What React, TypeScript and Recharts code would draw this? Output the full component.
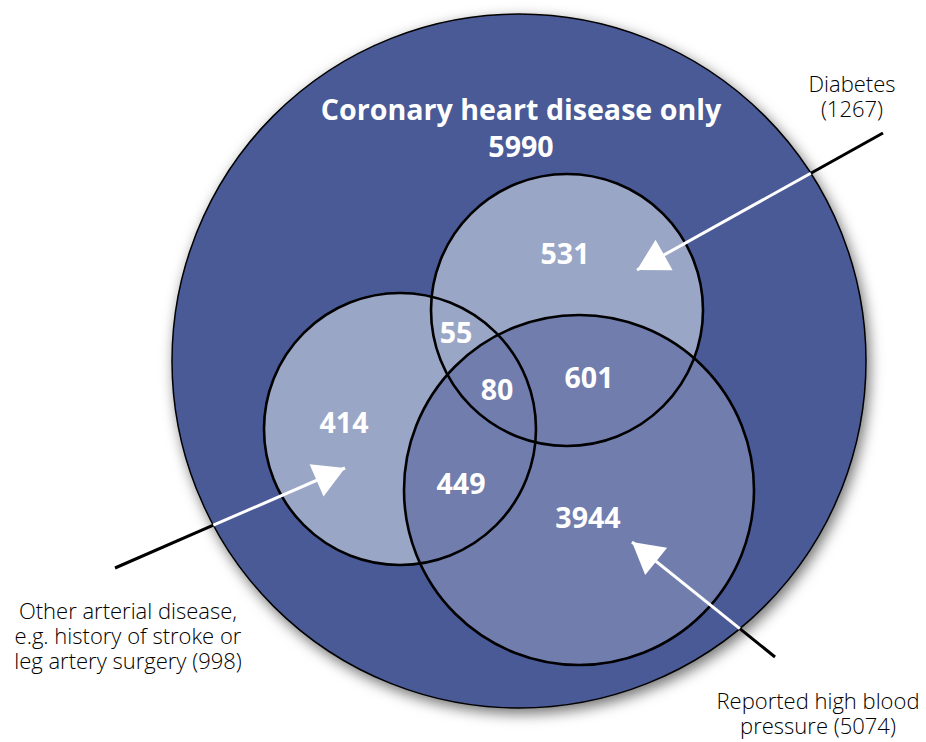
import { ScatterChart, Scatter, XAxis, YAxis } from 'recharts';

// diagram units are pixels of the 926 x 742 drawing
const W = 926;
const H = 742;

// outer set first, then the three subsets
const circleNames = ['Coronary heart disease', 'Diabetes', 'Other arterial disease', 'Reported high blood pressure'];
const circleX = [519, 567, 400, 579];
const circleY = [361, 310, 429, 490];
const circleR = [347, 136, 136, 175];

// counts of each region of the diagram
const regionCounts = [5990, 531, 55, 80, 601, 414, 449, 3944];
const regionX = [521, 565, 456, 497, 589, 344, 461, 588];
const regionY = [147, 254, 333, 390, 378, 423, 484, 518];

// subset totals and their callouts
const setTotals = [1267, 998, 5074];
const setLabelLines = [
    ['Diabetes', `(${setTotals[0]})`],
    ['Other arterial disease,', 'e.g. history of stroke or', `leg artery surgery (${setTotals[1]})`],
    ['Reported high blood', `pressure (${setTotals[2]})`],
];
const setLabelX = [852, 128, 818];
const setLabelY = [92, 619, 709];
const arrowFrom = [[883, 133], [115, 568], [775, 657]];
const arrowTo = [[637, 270], [345, 468], [632, 542]];

const DARK = '#4a5a96';
const LIGHT = '#9aa6c5';
const MID = '#707dad';

// where an arrow leaves the big circle
const crossing = (a, b) => {
    const cx = circleX[0], cy = circleY[0], r = circleR[0];
    const dx = b[0] - a[0], dy = b[1] - a[1];
    const fx = a[0] - cx, fy = a[1] - cy;
    const A = dx * dx + dy * dy;
    const B = 2 * (fx * dx + fy * dy);
    const C = fx * fx + fy * fy - r * r;
    const t = (-B - Math.sqrt(B * B - 4 * A * C)) / (2 * A);
    return { x: a[0] + t * dx, y: a[1] + t * dy };
};

const circles = circleNames.map((name, i) => ({ name, x: circleX[i], y: circleY[i], r: circleR[i] }));

export default function App() {

    const Fill = (fill, shadow?) => (props) => (
        <g>
            {shadow && (
                <defs>
                    <filter id='venn-shadow' x='-20%' y='-20%' width='140%' height='140%'>
                        <feDropShadow dx='3' dy='5' stdDeviation='7' floodColor='#000' floodOpacity='0.55' />
                    </filter>
                </defs>
            )}
            <circle cx={props.cx} cy={props.cy} r={props.payload.r} fill={fill}
                stroke={shadow ? '#000' : 'none'} strokeWidth={1.5}
                filter={shadow ? 'url(#venn-shadow)' : undefined} />
        </g>
    );

    const Ring = (props) => (
        <circle cx={props.cx} cy={props.cy} r={props.payload.r} fill='none' stroke='#000' strokeWidth={2.6} />
    );

    const RegionText = (props) => {
        const p = props.payload;
        if (p.title) {
            return (
                <text x={props.cx} textAnchor='middle' fill='#fff' fontFamily='"Open Sans", sans-serif'
                    fontWeight='700' fontSize={28.6}>
                    <tspan x={props.cx} y={props.cy - 27}>{p.title}</tspan>
                    <tspan x={props.cx} y={props.cy + 10}>{p.label}</tspan>
                </text>
            );
        }
        return (
            <text x={props.cx} y={props.cy + 10} textAnchor='middle' fill='#fff'
                fontFamily='"Open Sans", sans-serif' fontWeight='700' fontSize={28.6}>{p.label}</text>
        );
    };

    const SetText = (props) => (
        <text textAnchor='middle' fill='#000' fontFamily='"Open Sans", sans-serif' fontWeight='300' fontSize={22}>
            {props.payload.lines.map((l, j) => (
                <tspan key={j} x={props.cx} y={props.cy + j * 25}>{l}</tspan>
            ))}
        </text>
    );

    const Head = (props) => {
        const p = props.payload;
        if (!p.head) return null;
        const ux = Math.cos(p.ang), uy = Math.sin(p.ang);
        const bx = props.cx - ux * 31, by = props.cy - uy * 31;
        const pts = [
            [props.cx, props.cy],
            [bx - uy * 17.5, by + ux * 17.5],
            [bx + uy * 17.5, by - ux * 17.5],
        ].map(q => q.join(',')).join(' ');
        return <polygon points={pts} fill='#fff' />;
    };

    const regions = regionCounts.map((v, i) => ({
        x: regionX[i], y: regionY[i], label: String(v),
        title: i === 0 ? 'Coronary heart disease only' : undefined,
    }));

    const setLabels = setLabelLines.map((lines, i) => ({ x: setLabelX[i], y: setLabelY[i], lines }));

    const arrows = arrowFrom.map((a, i) => {
        const b = arrowTo[i];
        const c = crossing(a, b);
        const ang = Math.atan2(b[1] - a[1], b[0] - a[0]);
        return {
            outside: [{ x: a[0], y: a[1] }, c],
            inside: [c, { x: b[0], y: b[1], head: true, ang }],
        };
    });

    return (
        <div style={{ position: 'absolute', left: 0, top: 0, background: '#fff' }}>
            <ScatterChart width={W} height={H} margin={{ top: 0, right: 0, bottom: 0, left: 0 }}>
                <XAxis type='number' dataKey='x' domain={[0, W]} hide allowDataOverflow />
                <YAxis type='number' dataKey='y' domain={[0, H]} reversed hide allowDataOverflow />

                <Scatter data={[circles[0]]} shape={Fill(DARK, true)} isAnimationActive={false} />
                <Scatter data={[circles[1], circles[2]]} shape={Fill(LIGHT)} isAnimationActive={false} />
                <Scatter data={[circles[3]]} shape={Fill(MID)} isAnimationActive={false} />
                <Scatter data={circles.slice(1)} shape={Ring} isAnimationActive={false} />

                {arrows.map((a, i) => (
                    <Scatter key={'o' + i} data={a.outside} line={{ stroke: '#000', strokeWidth: 3 }}
                        shape={() => null} isAnimationActive={false} />
                ))}
                {arrows.map((a, i) => (
                    <Scatter key={'i' + i} data={a.inside} line={{ stroke: '#fff', strokeWidth: 3 }}
                        shape={Head} isAnimationActive={false} />
                ))}

                <Scatter data={regions} shape={RegionText} isAnimationActive={false} />
                <Scatter data={setLabels} shape={SetText} isAnimationActive={false} />
            </ScatterChart>
        </div>
    )
}
